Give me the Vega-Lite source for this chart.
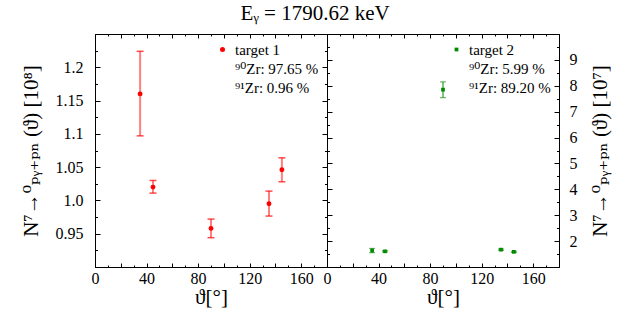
{
  "$schema": "https://vega.github.io/schema/vega-lite/v6.json",
  "padding": {"left": 19, "top": 2, "right": 2, "bottom": 2},
  "bounds": "flush",
  "spacing": 0,
  "title": {"text": "Eᵧ = 1790.62 keV", "fontSize": 21, "fontWeight": "normal", "font": "Liberation Serif, DejaVu Serif", "anchor": "middle", "offset": 2, "color": "black"},
  "datasets": {
    "t1": [
      {"theta": 35, "val": 1.16, "lo": 1.097, "hi": 1.224, "series": "target 1"},
      {"theta": 45, "val": 1.02, "lo": 1.011, "hi": 1.03, "series": "target 1"},
      {"theta": 90, "val": 0.958, "lo": 0.944, "hi": 0.972, "series": "target 1"},
      {"theta": 135, "val": 0.995, "lo": 0.9765, "hi": 1.014, "series": "target 1"},
      {"theta": 145, "val": 1.046, "lo": 1.028, "hi": 1.064, "series": "target 1"}
    ],
    "t2": [
      {"theta": 35, "val": 1.635, "lo": 1.55, "hi": 1.72, "series": "target 2"},
      {"theta": 45, "val": 1.605, "lo": 1.58, "hi": 1.63, "series": "target 2"},
      {"theta": 90, "val": 7.85, "lo": 7.54, "hi": 8.15, "series": "target 2"},
      {"theta": 135, "val": 1.67, "lo": 1.645, "hi": 1.695, "series": "target 2"},
      {"theta": 145, "val": 1.585, "lo": 1.56, "hi": 1.61, "series": "target 2"}
    ]
  },
  "hconcat": [
    {
      "width": 232,
      "height": 233,
      "data": {"name": "t1"},
      "layer": [
        {
          "mark": {"type": "rule", "color": "#ff0000", "opacity": 0.5, "strokeWidth": 2},
          "encoding": {
            "x": {"field": "theta", "type": "quantitative", "scale": {"domain": [0, 180], "nice": false, "zero": false},
                  "axis": {"orient": "bottom", "values": [0, 20, 40, 60, 80, 100, 120, 140, 160, 180], "tickSize": -4, "labelPadding": 7,
                           "labelExpr": "datum.value % 40 === 0 && datum.value < 170 ? format(datum.value, 'd') : ''",
                           "title": "ϑ[°]", "titlePadding": 0}},
            "y": {"field": "lo", "type": "quantitative", "scale": {"domain": [0.9, 1.25], "nice": false, "zero": false},
                  "axis": {"orient": "left", "values": [0.9, 0.95, 1.0, 1.05, 1.1, 1.15, 1.2, 1.25], "tickSize": -5, "labelPadding": 17,
                           "labelExpr": "datum.value < 0.92 || datum.value > 1.23 ? '' : (datum.value === 1 ? '1.0' : format(datum.value, '~g'))",
                           "title": "N⁷→⁰ₚᵧ₊ₚₙ (ϑ) [10⁸]", "titlePadding": 14}},
            "y2": {"field": "hi"}
          }
        },
        {
          "mark": {"type": "tick", "orient": "horizontal", "color": "#ff0000", "size": 7, "thickness": 1.5},
          "encoding": {
            "x": {"field": "theta", "type": "quantitative", "scale": {"domain": [0, 180], "nice": false, "zero": false},
                  "axis": {"orient": "bottom", "values": [10, 30, 50, 70, 90, 110, 130, 150, 170], "tickSize": -2, "labels": false, "title": null}},
            "y": {"field": "lo", "type": "quantitative", "scale": {"domain": [0.9, 1.25], "nice": false, "zero": false},
                  "axis": {"orient": "left", "values": [0.925, 0.975, 1.025, 1.075, 1.125, 1.175, 1.225], "tickSize": -2.5, "labels": false, "title": null}}
          }
        },
        {
          "mark": {"type": "tick", "orient": "horizontal", "color": "#ff0000", "size": 7, "thickness": 1.5},
          "encoding": {
            "x": {"field": "theta", "type": "quantitative", "scale": {"domain": [0, 180], "nice": false, "zero": false},
                  "axis": {"orient": "top", "values": [0, 20, 40, 60, 80, 100, 120, 140, 160, 180], "tickSize": -4, "labels": false, "title": null}},
            "y": {"field": "hi", "type": "quantitative", "scale": {"domain": [0.9, 1.25], "nice": false, "zero": false},
                  "axis": {"orient": "right", "values": [0.9, 0.95, 1.0, 1.05, 1.1, 1.15, 1.2, 1.25], "tickSize": -5, "labels": false, "title": null}}
          }
        },
        {
          "mark": {"type": "point", "filled": true, "opacity": 1, "size": 24, "shape": "circle"},
          "encoding": {
            "x": {"field": "theta", "type": "quantitative", "scale": {"domain": [0, 180], "nice": false, "zero": false},
                  "axis": {"orient": "top", "values": [10, 30, 50, 70, 90, 110, 130, 150, 170], "tickSize": -2, "labels": false, "title": null}},
            "y": {"field": "val", "type": "quantitative", "scale": {"domain": [0.9, 1.25], "nice": false, "zero": false},
                  "axis": {"orient": "right", "values": [0.925, 0.975, 1.025, 1.075, 1.125, 1.175, 1.225], "tickSize": -2.5, "labels": false, "title": null}},
            "color": {"field": "series", "type": "nominal",
                      "scale": {"domain": ["target 1", "⁹⁰Zr: 97.65 %", "⁹¹Zr: 0.96 %"], "range": ["#ff0000", "transparent", "transparent"]},
                      "legend": {"title": null, "orient": "top-right", "offset": 8}}
          }
        }
      ],
      "resolve": {"axis": {"x": "independent", "y": "independent"}}
    },
    {
      "width": 232,
      "height": 233,
      "data": {"name": "t2"},
      "layer": [
        {
          "mark": {"type": "rule", "color": "#008a00", "strokeWidth": 1},
          "encoding": {
            "x": {"field": "theta", "type": "quantitative", "scale": {"domain": [0, 180], "nice": false, "zero": false},
                  "axis": {"orient": "bottom", "values": [0, 20, 40, 60, 80, 100, 120, 140, 160, 180], "tickSize": -4, "labelPadding": 7,
                           "labelExpr": "datum.value % 40 === 0 && datum.value < 170 ? format(datum.value, 'd') : ''",
                           "title": "ϑ[°]", "titlePadding": 0}},
            "y": {"field": "lo", "type": "quantitative", "scale": {"domain": [1, 10], "nice": false, "zero": false},
                  "axis": {"orient": "right", "values": [1, 2, 3, 4, 5, 6, 7, 8, 9, 10], "tickSize": -5, "labelPadding": 15,
                           "labelExpr": "datum.value >= 2 && datum.value <= 9 ? format(datum.value, 'd') : ''",
                           "title": "N⁷→⁰ₚᵧ₊ₚₙ (ϑ) [10⁷]", "titleAngle": 270, "titleBaseline": "top", "titlePadding": 12}},
            "y2": {"field": "hi"}
          }
        },
        {
          "mark": {"type": "tick", "orient": "horizontal", "color": "#008a00", "size": 6, "thickness": 1},
          "encoding": {
            "x": {"field": "theta", "type": "quantitative", "scale": {"domain": [0, 180], "nice": false, "zero": false},
                  "axis": {"orient": "bottom", "values": [10, 30, 50, 70, 90, 110, 130, 150, 170], "tickSize": -2, "labels": false, "title": null}},
            "y": {"field": "lo", "type": "quantitative", "scale": {"domain": [1, 10], "nice": false, "zero": false},
                  "axis": {"orient": "right", "values": [1.5, 2.5, 3.5, 4.5, 5.5, 6.5, 7.5, 8.5, 9.5], "tickSize": -2.5, "labels": false, "title": null}}
          }
        },
        {
          "mark": {"type": "tick", "orient": "horizontal", "color": "#008a00", "size": 6, "thickness": 1},
          "encoding": {
            "x": {"field": "theta", "type": "quantitative", "scale": {"domain": [0, 180], "nice": false, "zero": false},
                  "axis": {"orient": "top", "values": [0, 20, 40, 60, 80, 100, 120, 140, 160, 180], "tickSize": -4, "labels": false, "title": null}},
            "y": {"field": "hi", "type": "quantitative", "scale": {"domain": [1, 10], "nice": false, "zero": false},
                  "axis": {"orient": "left", "values": [1, 2, 3, 4, 5, 6, 7, 8, 9, 10], "tickSize": -5, "labels": false, "title": null}}
          }
        },
        {
          "mark": {"type": "point", "filled": true, "opacity": 1, "size": 14, "shape": "square"},
          "encoding": {
            "x": {"field": "theta", "type": "quantitative", "scale": {"domain": [0, 180], "nice": false, "zero": false},
                  "axis": {"orient": "top", "values": [10, 30, 50, 70, 90, 110, 130, 150, 170], "tickSize": -2, "labels": false, "title": null}},
            "y": {"field": "val", "type": "quantitative", "scale": {"domain": [1, 10], "nice": false, "zero": false},
                  "axis": {"orient": "left", "values": [1.5, 2.5, 3.5, 4.5, 5.5, 6.5, 7.5, 8.5, 9.5], "tickSize": -2.5, "labels": false, "title": null}},
            "color": {"field": "series", "type": "nominal",
                      "scale": {"domain": ["target 2", "⁹⁰Zr: 5.99 %", "⁹¹Zr: 89.20 %"], "range": ["#008a00", "transparent", "transparent"]},
                      "legend": {"title": null, "orient": "top-right", "offset": 8, "symbolSize": 14}}
          }
        }
      ],
      "resolve": {"axis": {"x": "independent", "y": "independent"}}
    }
  ],
  "resolve": {"scale": {"color": "independent"}, "legend": {"color": "independent"}},
  "config": {
    "font": "Liberation Serif, DejaVu Serif",
    "background": "white",
    "view": {"stroke": "black", "strokeWidth": 1},
    "axis": {"domain": false, "grid": false, "tickColor": "black", "tickWidth": 1, "labelColor": "black", "titleColor": "black",
             "labelFont": "Liberation Serif, DejaVu Serif", "titleFont": "Liberation Serif, DejaVu Serif", "labelFontSize": 16, "titleFontSize": 21,
             "titleFontWeight": "normal", "labelFlush": false, "labelOverlap": false},
    "legend": {"labelFont": "Liberation Serif, DejaVu Serif", "labelFontSize": 15, "labelColor": "black", "symbolSize": 25, "labelOffset": 5,
               "rowPadding": 3, "padding": 0, "labelLimit": 200}
  }
}
